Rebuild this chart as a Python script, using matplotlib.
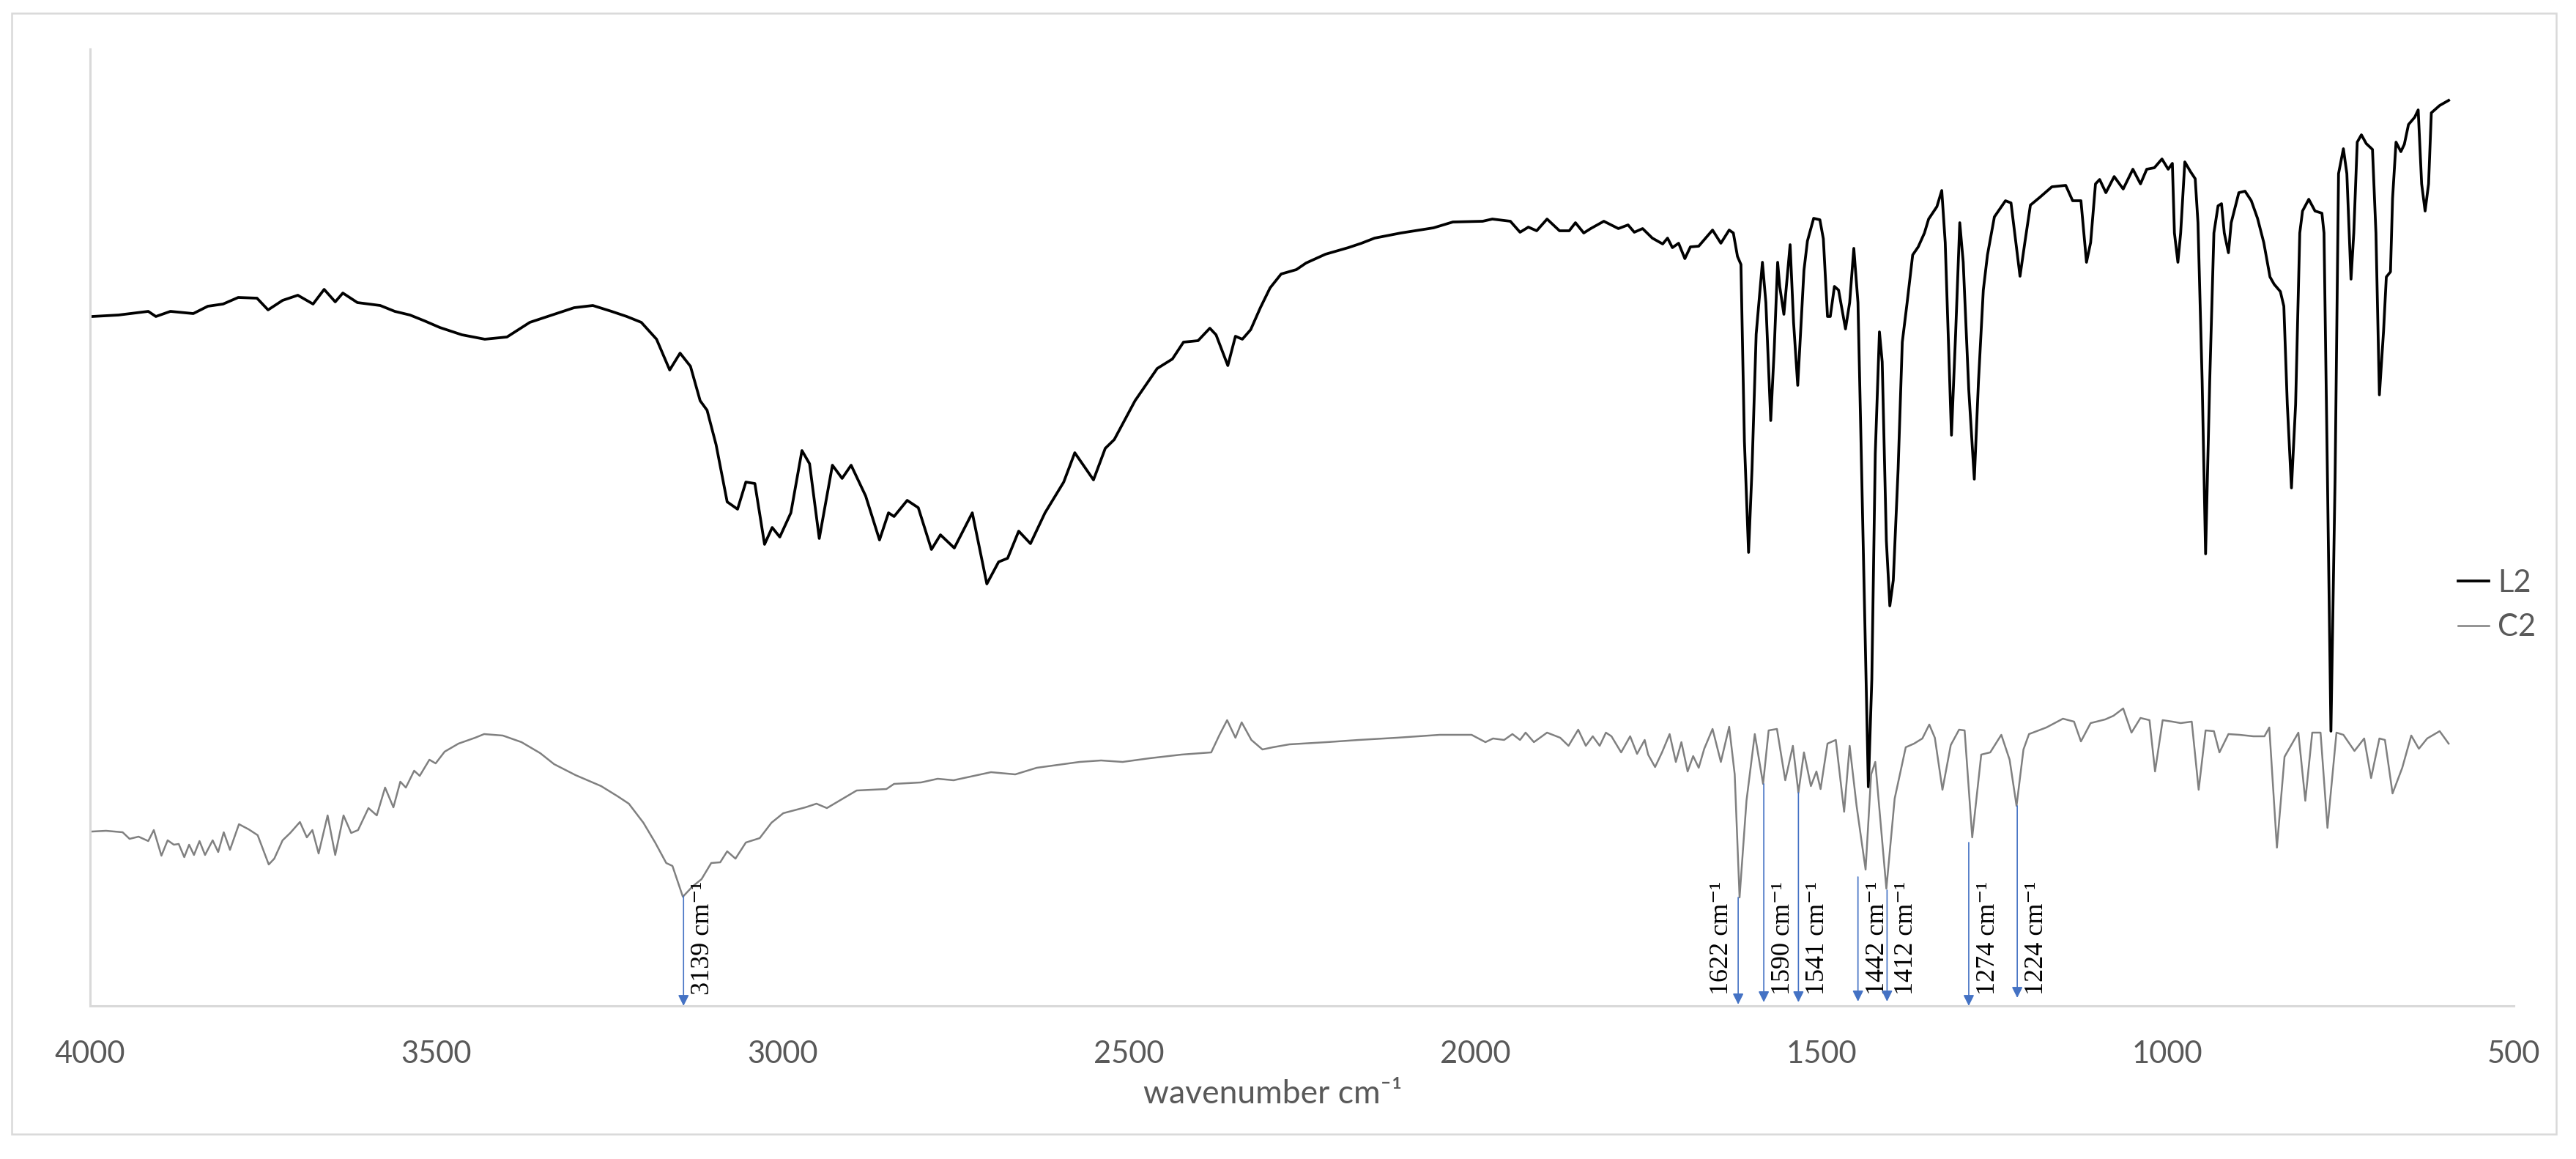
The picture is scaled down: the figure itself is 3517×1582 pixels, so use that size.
import matplotlib
matplotlib.use("Agg")
import matplotlib.pyplot as plt
from matplotlib import transforms
from matplotlib.patches import Rectangle

# ---------------- data ----------------
l2_wn = [3997, 3959, 3916, 3905, 3884, 3851, 3830, 3808, 3786, 3759, 3743, 3722, 3700, 3678, 3662, 3646,
         3635, 3614, 3581, 3560, 3538, 3517, 3495, 3463, 3430, 3398, 3365, 3333, 3301, 3274, 3247, 3225,
         3204, 3182, 3163, 3148, 3133, 3119, 3109, 3096, 3080, 3065, 3053, 3040, 3026, 3015, 3004, 2988,
         2972, 2961, 2947, 2928, 2914, 2901, 2880, 2860, 2847, 2839, 2820, 2804, 2785, 2772, 2752, 2726,
         2705, 2688, 2675, 2659, 2642, 2621, 2594, 2578, 2551, 2534, 2521, 2491, 2459, 2437, 2421, 2400,
         2383, 2374, 2357, 2346, 2336, 2324, 2310, 2296, 2280, 2258, 2244, 2216, 2183, 2164, 2145, 2107,
         2060, 2032, 1989, 1975, 1949, 1935, 1923, 1911, 1896, 1878, 1864, 1855, 1843, 1833, 1814, 1793,
         1779, 1770, 1758, 1744, 1729, 1722, 1715, 1706, 1697, 1689, 1677, 1657, 1645, 1633, 1627, 1621,
         1616, 1611, 1605, 1600, 1594, 1585, 1580, 1573, 1568, 1563, 1560, 1554, 1545, 1540, 1534, 1525,
         1520, 1511, 1502, 1497, 1491, 1487, 1481, 1475, 1465, 1459, 1453, 1447, 1443, 1432, 1427, 1422,
         1416, 1412, 1406, 1401, 1396, 1389, 1383, 1376, 1368, 1360, 1351, 1345, 1333, 1326, 1321, 1312,
         1306, 1300, 1295, 1287, 1279, 1273, 1266, 1260, 1250, 1234, 1226, 1219, 1213, 1206, 1198, 1184,
         1167, 1147, 1137, 1125, 1117, 1111, 1104, 1098, 1089, 1077, 1064, 1050, 1039, 1030, 1019, 1008,
         999, 993, 990, 985, 981, 975, 967, 960, 956, 950, 945, 939, 933, 927, 922, 918,
         912, 908, 897, 888, 879, 870, 861, 852, 846, 837, 832, 827, 821, 815, 809, 805,
         796, 787, 777, 774, 769, 764, 758, 753, 746, 741, 735, 731, 726, 720, 713, 704,
         699, 694, 688, 684, 678, 675, 670, 663, 658, 652, 643, 638, 633, 628, 623, 619,
         607, 594]
l2_t = [94.1, 94.3, 94.8, 94.1, 94.8, 94.5, 95.5, 95.8, 96.7, 96.6, 95.0, 96.3, 97.0, 95.8, 97.8, 96.1,
        97.3, 96.0, 95.6, 94.8, 94.3, 93.5, 92.6, 91.6, 91.0, 91.3, 93.3, 94.3, 95.3, 95.6, 94.8, 94.1,
        93.3, 91.0, 86.8, 89.1, 87.3, 82.6, 81.3, 76.6, 68.8, 67.8, 71.5, 71.3, 63.0, 65.3, 64.0, 67.3,
        75.8, 74.0, 63.8, 73.8, 72.0, 73.8, 69.6, 63.6, 67.3, 66.8, 69.0, 68.0, 62.3, 64.3, 62.5, 67.3,
        57.6, 60.6, 61.1, 64.8, 63.1, 67.3, 71.5, 75.5, 71.8, 76.1, 77.3, 82.6, 87.0, 88.3, 90.6, 90.8,
        92.5, 91.6, 87.4, 91.4, 91.0, 92.3, 95.3, 98.0, 99.9, 100.5, 101.4, 102.6, 103.5, 104.1, 104.8, 105.5,
        106.2, 107.0, 107.1, 107.4, 107.1, 105.6, 106.3, 105.8, 107.4, 105.8, 105.8, 106.9, 105.5, 106.1, 107.1, 106.1,
        106.6, 105.6, 106.1, 104.8, 104.0, 104.8, 103.5, 104.1, 102.0, 103.6, 103.7, 105.9, 104.1, 105.9, 105.5, 102.3,
        101.2, 77.1, 61.9, 73.3, 91.7, 101.5, 96.0, 79.9, 89.5, 101.5, 98.2, 94.4, 103.9, 93.3, 84.7, 100.4,
        104.4, 107.5, 107.3, 104.7, 94.1, 94.1, 98.2, 97.7, 92.4, 96.0, 103.4, 96.0, 78.7, 29.9, 44.6, 75.4,
        92.0, 87.9, 63.5, 54.6, 58.1, 73.3, 90.6, 96.0, 102.5, 103.6, 105.5, 107.4, 109.1, 111.3, 104.2, 77.9,
        91.7, 106.9, 101.5, 84.1, 71.9, 85.2, 97.7, 102.5, 107.7, 109.9, 109.6, 104.2, 99.6, 104.2, 109.3, 110.4,
        111.8, 112.0, 109.9, 109.9, 101.5, 104.2, 112.2, 112.8, 111.0, 113.2, 111.5, 114.2, 112.2, 114.2, 114.4, 115.6,
        114.2, 115.0, 105.5, 101.5, 105.5, 115.2, 113.9, 112.9, 106.9, 85.4, 61.7, 85.4, 105.5, 109.2, 109.5, 105.5,
        102.8, 106.9, 111.0, 111.2, 109.9, 107.5, 104.2, 99.5, 98.5, 97.5, 95.5, 82.1, 70.7, 82.1, 105.5, 108.5,
        110.1, 108.5, 108.2, 105.5, 72.0, 37.5, 72.0, 113.6, 117.0, 113.6, 99.2, 105.5, 117.9, 118.9, 117.7, 116.9,
        105.5, 83.4, 92.1, 99.5, 100.2, 110.2, 117.9, 116.6, 117.6, 120.3, 121.3, 122.3, 112.2, 108.5, 112.2, 121.9,
        122.9, 123.6]

c2_wn = [3997, 3977, 3953, 3943, 3930, 3916, 3908, 3897, 3888, 3879, 3872, 3864, 3857, 3850, 3842, 3834,
         3823, 3815, 3807, 3798, 3785, 3771, 3758, 3742, 3734, 3722, 3711, 3697, 3687, 3679, 3670, 3657,
         3646, 3634, 3623, 3613, 3598, 3586, 3574, 3562, 3552, 3544, 3532, 3524, 3510, 3501, 3488, 3468,
         3444, 3431, 3404, 3377, 3350, 3330, 3299, 3262, 3238, 3222, 3201, 3184, 3168, 3159, 3144, 3130,
         3117, 3103, 3090, 3080, 3068, 3053, 3033, 3016, 2999, 2967, 2951, 2936, 2893, 2850, 2839, 2800,
         2776, 2753, 2699, 2664, 2633, 2571, 2540, 2509, 2470, 2424, 2381, 2369, 2358, 2346, 2337, 2323,
         2307, 2292, 2268, 2214, 2168, 2113, 2051, 2005, 1985, 1974, 1958, 1946, 1935, 1927, 1915, 1896,
         1877, 1865, 1851, 1840, 1830, 1820, 1811, 1803, 1789, 1776, 1766, 1755, 1750, 1740, 1730, 1719,
         1710, 1702, 1693, 1685, 1677, 1669, 1657, 1645, 1633, 1625, 1618, 1608, 1596, 1584, 1576, 1564,
         1552, 1541, 1533, 1525, 1515, 1507, 1501, 1491, 1479, 1467, 1459, 1449, 1436, 1428, 1422, 1406,
         1394, 1378, 1366, 1354, 1344, 1336, 1325, 1313, 1301, 1293, 1282, 1269, 1256, 1240, 1228, 1218,
         1208, 1200, 1175, 1151, 1135, 1125, 1111, 1090, 1078, 1064, 1052, 1039, 1026, 1018, 1007, 993,
         981, 965, 955, 945, 933, 925, 912, 896, 876, 860, 853, 842, 831, 811, 801, 791,
         779, 769, 756, 746, 730, 716, 706, 694, 686, 675, 661, 648, 637, 625, 607, 594]
c2_t = [23.8, 23.9, 23.7, 22.8, 23.1, 22.5, 24.0, 20.5, 22.6, 22.0, 22.1, 20.3, 22.0, 20.6, 22.5, 20.6,
        22.6, 21.0, 23.7, 21.3, 24.8, 24.1, 23.3, 19.3, 20.1, 22.6, 23.6, 25.1, 23.0, 24.0, 20.8, 26.0,
        20.6, 26.0, 23.6, 24.0, 27.0, 26.0, 29.8, 27.1, 30.6, 29.8, 32.1, 31.4, 33.6, 33.1, 34.7, 35.8,
        36.6, 37.1, 36.9, 36.0, 34.5, 33.0, 31.5, 30.0, 28.6, 27.6, 25.0, 22.3, 19.5, 19.1, 14.9, 16.3,
        17.3, 19.5, 19.6, 21.1, 20.1, 22.3, 22.9, 25.0, 26.3, 27.1, 27.6, 27.0, 29.4, 29.6, 30.3, 30.5,
        31.0, 30.8, 31.9, 31.6, 32.5, 33.3, 33.5, 33.3, 33.8, 34.3, 34.6, 37.0, 39.0, 36.6, 38.7, 36.3,
        35.0, 35.3, 35.7, 36.0, 36.3, 36.6, 37.0, 37.0, 36.0, 36.5, 36.3, 37.1, 36.3, 37.3, 36.0, 37.3,
        36.6, 35.5, 37.7, 35.5, 36.8, 35.5, 37.3, 36.8, 34.6, 36.8, 34.4, 36.3, 34.3, 32.6, 34.6, 37.1,
        33.3, 36.0, 32.0, 34.1, 32.5, 35.1, 37.8, 33.3, 38.1, 31.6, 14.8, 28.0, 37.1, 30.3, 37.6, 37.8,
        30.8, 35.5, 29.1, 34.6, 30.0, 32.0, 29.6, 35.8, 36.3, 26.5, 35.5, 27.3, 18.6, 31.6, 33.3, 16.0,
        28.3, 35.3, 35.8, 36.5, 38.4, 36.6, 29.5, 35.6, 37.7, 37.6, 23.0, 34.3, 34.6, 37.0, 33.6, 27.3,
        35.0, 37.1, 38.0, 39.2, 38.8, 36.1, 38.6, 39.1, 39.6, 40.6, 37.3, 39.3, 39.0, 32.0, 39.0, 38.8,
        38.6, 38.8, 29.5, 37.6, 37.5, 34.6, 37.1, 37.0, 36.8, 36.8, 38.0, 21.6, 34.0, 37.3, 28.0, 37.3,
        37.3, 24.3, 37.3, 37.0, 34.8, 36.5, 31.1, 36.5, 36.3, 29.0, 32.5, 36.9, 35.1, 36.5, 37.5, 35.8]

series_names = ["L2", "C2"]

peak_labels = ["3139", "1622", "1590", "1541", "1442", "1412", "1274", "1224"]
arrow_wn = [3143, 1620, 1583, 1533, 1447, 1405, 1287, 1217]
arrow_top = [15.0, 14.8, 30.3, 29.1, 17.6, 15.8, 22.3, 27.3]
arrow_tip = [0.0, 0.2, 0.5, 0.5, 0.6, 0.6, 0.0, 1.1]
label_side = ["right", "left", "right", "right", "right", "right", "right", "right"]

x_ticks = [4000, 3500, 3000, 2500, 2000, 1500, 1000, 500]

assert len(l2_wn) == len(l2_t)
assert len(c2_wn) == len(c2_t)

# ---------------- figure ----------------
W, H, DPI = 3517, 1582, 200
fig = plt.figure(figsize=(W / DPI, H / DPI), dpi=DPI)
fig.patch.set_facecolor("white")

ax = fig.add_axes([123 / W, 1 - 1373 / H, (3432 - 123) / W, (1373 - 67) / H])

sans = ["Lato", "DejaVu Sans"]
serif = ["Liberation Serif", "DejaVu Serif"]
grey_txt = "#595959"
axis_col = "#D9D9D9"

ax.plot(l2_wn, l2_t, color="black", lw=1.35, label=series_names[0], solid_joinstyle="round")
ax.plot(c2_wn, c2_t, color="#808080", lw=0.9, label=series_names[1], solid_joinstyle="round")

ax.set_xlim(4000, 500)
ax.set_ylim(0, 130.6)
ax.set_xticks(x_ticks)
ax.set_xticklabels([str(t) for t in x_ticks], family=sans, fontsize=15, color=grey_txt)
ax.set_yticks([])
ax.tick_params(axis="x", length=0, pad=17)
for s in ["top", "right"]:
    ax.spines[s].set_visible(False)
for s in ["left", "bottom"]:
    ax.spines[s].set_color(axis_col)
    ax.spines[s].set_linewidth(1.1)

# arrows + labels
for lab, xw, yt, ytip, side in zip(peak_labels, arrow_wn, arrow_top, arrow_tip, label_side):
    ax.annotate("", xy=(xw, ytip), xytext=(xw, yt),
                arrowprops=dict(arrowstyle="-|>", color="#4472C4", lw=0.6,
                                mutation_scale=11, shrinkA=0, shrinkB=0))
    dx = 9.5 if side == "right" else -8.0
    tr = transforms.offset_copy(ax.transData, fig=fig, x=dx, y=0, units="points")
    ax.text(xw, 1.5, lab + " cm\u207b\u00b9", transform=tr, rotation=90,
            ha="center", va="bottom", fontsize=13, family=serif, color="black")

# x-axis title
fig.text(1738 / W, 1 - 1493 / H, "wavenumber cm\u207b\u00b9", ha="center", va="center",
         fontsize=16, color=grey_txt, family=sans)

# legend
leg = ax.legend(loc="center left", bbox_to_anchor=(3356 / W, 1 - 826 / H),
                bbox_transform=fig.transFigure, frameon=False, handlelength=1.0,
                handletextpad=0.3, labelspacing=0.55, borderpad=0, borderaxespad=0,
                prop={"family": sans, "size": 15})
for t in leg.get_texts():
    t.set_color(grey_txt)

# outer chart border
fig.add_artist(Rectangle((16 / W, 1 - 1548 / H), (3490 - 16) / W, (1548 - 18) / H,
                         transform=fig.transFigure, fill=False, edgecolor=axis_col, lw=0.9))

fig.savefig("out.png", dpi=DPI)
